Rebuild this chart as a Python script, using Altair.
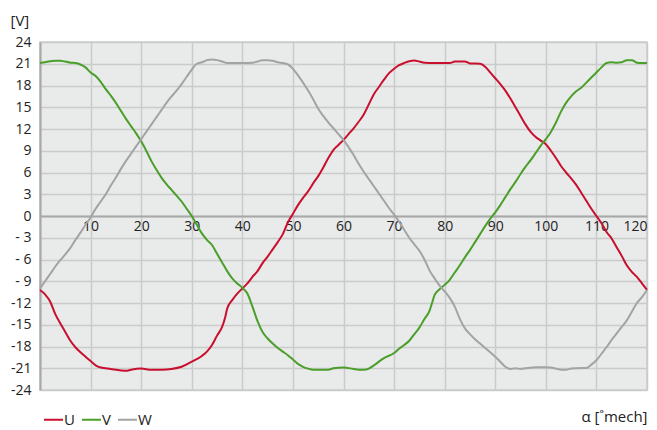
import altair as alt
import pandas as pd

u_x = [0,1,2,3,4,5,6,7,8,9,10,11,12,14,16,17,18,20,22,24,26,28,30,32,33,34,35,36,36.6,37,38,39,40,41,42,43,44,45,46,47,48,49,50,51,52,53,54,55,56,57,58,59,60,61,62,63,64,65,66,67,68,69,70,71,72,73,74,75,76,78,80,81,82,84,85,87,88,89,90,91,92,93,94,95,96,97,98,99,100,101,102,103,104,105,106,107,108,109,110,111,112,113,114,115,116,117,118,119,120]
u_y = [-10.2,-10.8,-11.8,-13.5,-14.8,-16,-17.2,-18.1,-18.8,-19.4,-20,-20.6,-20.9,-21.1,-21.3,-21.35,-21.2,-21.05,-21.2,-21.2,-21.1,-20.8,-20.1,-19.3,-18.7,-17.8,-16.5,-15.3,-14.0,-12.8,-11.6,-10.7,-10.0,-9.3,-8.4,-7.6,-6.5,-5.6,-4.6,-3.6,-2.5,-0.9,0.3,1.5,2.5,3.4,4.5,5.5,6.7,8.0,9.1,9.8,10.5,11.3,12.1,13.0,14.0,15.4,16.8,17.8,18.8,19.7,20.3,20.8,21.1,21.35,21.45,21.3,21.15,21.1,21.1,21.1,21.3,21.3,21.05,21.0,20.6,19.8,19.0,18.2,17.3,16.2,15.0,13.8,12.6,11.6,10.9,10.4,9.9,9.0,8.0,6.9,6.0,5.2,4.3,3.2,2.1,1.0,0.0,-1.0,-2.2,-3.1,-4.3,-5.5,-6.8,-7.7,-8.4,-9.3,-10.2]

v_x = [0,1,2,3,4,5,6,7,8,9,10,11,12,13,14,15,16,17,18,19,20,21,22,23,24,25,26,27,28,29,30,31,32,33,34,35,36,37,38,39,40,41,42,43,44,45,46,47,48,49,50,51,52,53,54,56,57,58,60,62,63,64,65,66,68,70,71,72,73,74,75,76,77,77.5,78,79,80,81,82,83,84,85,86,87,88,89,90,91,92,93,94,95,96,97,98,99,100,101,102,103,104,105,106,107,108,109,110,111,112,113,114,115,116,117,118,119,120]
v_y = [21.1,21.2,21.35,21.4,21.4,21.3,21.15,21.1,20.9,20.5,19.8,19.3,18.5,17.5,16.6,15.6,14.5,13.4,12.4,11.4,10.3,9.0,7.6,6.4,5.3,4.4,3.6,2.8,2.0,1.0,0.0,-1.2,-2.4,-3.3,-4.0,-5.2,-6.4,-7.6,-8.6,-9.3,-9.9,-10.7,-12.5,-14.5,-16.0,-16.9,-17.6,-18.2,-18.7,-19.2,-19.8,-20.4,-20.8,-21.05,-21.2,-21.2,-21.2,-21.0,-20.9,-21.1,-21.2,-21.2,-21.05,-20.6,-19.6,-18.9,-18.3,-17.8,-17.2,-16.3,-15.4,-14.2,-13.1,-12.0,-10.9,-10.1,-9.5,-8.8,-7.8,-6.8,-5.7,-4.7,-3.6,-2.5,-1.4,-0.4,0.5,1.5,2.6,3.7,4.7,5.8,6.8,7.7,8.7,9.7,10.6,11.6,12.9,14.4,15.6,16.5,17.2,17.7,18.4,19.1,19.8,20.5,21.1,21.2,21.15,21.2,21.5,21.5,21.15,21.1,21.1]

w_x = [0,1,2,3,4,5,6,7,8,9,10,11,12,13,14,15,16,17,18,19,20,21,22,23,24,25,26,27,28,29,30,31,32,33,34,35,36,37,40,42,43,44,45,46,47,48,49,50,51,52,53,54,55,56,57,58,59,60,61,62,63,64,65,66,67,68,69,70,71,72,73,74,75,76,77,78,79,80,81,82,83,84,85,86,87,88,89,90,91,92,93,94,95,96,98,100,101,102,103,104,105,106,108,109,110,111,112,113,114,115,116,117,118,119,120]
w_y = [-10.0,-9.0,-8.0,-7.0,-6.1,-5.3,-4.4,-3.3,-2.3,-1.2,-0.2,1.0,2.0,3.0,4.2,5.3,6.5,7.6,8.6,9.6,10.6,11.6,12.6,13.6,14.6,15.6,16.5,17.3,18.2,19.2,20.2,21.0,21.2,21.5,21.6,21.5,21.3,21.1,21.1,21.15,21.3,21.5,21.5,21.4,21.2,21.1,20.9,20.3,19.4,18.4,17.3,16.1,14.8,13.8,12.9,12.1,11.3,10.5,9.5,8.4,7.2,6.1,5.1,4.1,3.1,2.1,1.1,0.2,-0.8,-1.9,-3.0,-3.9,-4.8,-6.0,-7.5,-8.6,-9.6,-10.4,-11.3,-12.5,-14.2,-15.5,-16.3,-17.0,-17.6,-18.2,-18.8,-19.4,-20.1,-20.8,-21.1,-21.0,-21.1,-21.0,-20.85,-20.85,-20.9,-21.05,-21.2,-21.2,-21.05,-21.0,-20.95,-20.5,-19.9,-19.0,-18.1,-17.1,-16.2,-15.3,-14.4,-13.2,-12.0,-11.2,-10.2]

series_names = ["U", "V", "W"]
series_colors = ["#c8102e", "#4a9f2a", "#a3a3a3"]
x_ticks = list(range(0, 121, 10))
y_ticks = list(range(-24, 25, 3))

rows = []
for name, xs, ys in [("U", u_x, u_y), ("V", v_x, v_y), ("W", w_x, w_y)]:
    for i, (a, b) in enumerate(zip(xs, ys)):
        rows.append({"phase": name, "alpha": a, "volt": b, "order": i})
df = pd.DataFrame(rows)

font = "Open Sans"
txt = "#222222"

x_axis = alt.Axis(values=x_ticks, offset=-174, labelExpr="datum.value == 0 ? '' : datum.label",
                  labelAlign={"condition": {"test": "datum.value == 120", "value": "right"}, "value": "center"},
                  grid=True, gridColor="#cbcbcb", gridWidth=1.5, domain=True, domainColor="#a8a8a8",
                  domainWidth=2, ticks=False, labelPadding=3, labelFontSize=14, labelColor=txt,
                  labelFont=font,
                  title="α [˚mech]", titleFont=font, titleFontSize=15, titleFontWeight="normal",
                  titleColor=txt, titleAnchor="end", titleAlign="right", titleX=607, titleY=200,
                  titleBaseline="middle")

y_axis = alt.Axis(values=y_ticks,
                  labelExpr="datum.value < 0 && datum.value > -10 ? '- ' + abs(datum.value) : (datum.value < 0 ? '-' + abs(datum.value) : '' + datum.value)",
                  grid=True, gridColor="#cbcbcb", gridWidth=1.5, domain=True, domainColor="#a8a8a8",
                  domainWidth=2, ticks=False, labelPadding=9, labelFontSize=14, labelColor=txt,
                  labelFont=font, title="[V]", titleAngle=0, titleAlign="left", titleBaseline="middle",
                  titleX=-30, titleY=-22, titleFont=font, titleFontSize=15, titleFontWeight="normal",
                  titleColor=txt)

chart = alt.Chart(df).mark_line(strokeWidth=2, interpolate="monotone").encode(
    x=alt.X("alpha:Q", scale=alt.Scale(domain=[0, 120], nice=False, zero=False), axis=x_axis),
    y=alt.Y("volt:Q", scale=alt.Scale(domain=[-24, 24], nice=False), axis=y_axis),
    color=alt.Color("phase:N", scale=alt.Scale(domain=series_names, range=series_colors),
                    legend=alt.Legend(orient="none", legendX=3, legendY=367, direction="horizontal",
                                      title=None, symbolType="stroke", symbolStrokeWidth=2, symbolSize=361,
                                      labelFontSize=15, labelFont=font, labelColor=txt,
                                      columnPadding=3, labelOffset=0)),
    order="order:Q",
).properties(
    width=607, height=348,
    padding={"left": 32, "top": 34, "right": 2, "bottom": 40},
    autosize=alt.AutoSizeParams(type="none"),
).configure_view(
    fill="#e9eaea", stroke="#cbcbcb", strokeWidth=1.5
)

chart.save("out.html", embed_options={"renderer": "svg", "actions": False})
